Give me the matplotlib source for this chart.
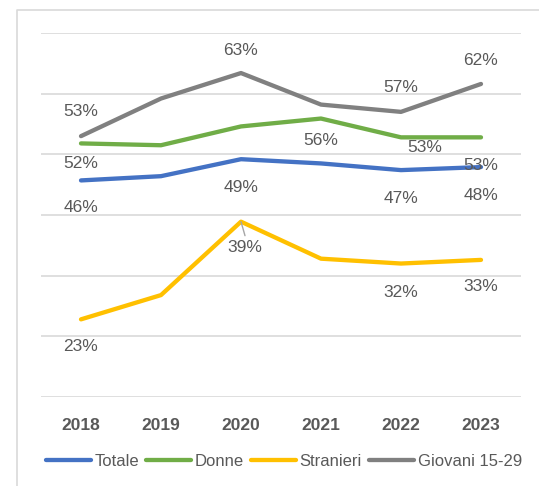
import matplotlib.pyplot as plt
from matplotlib.lines import Line2D

years = ['2018', '2019', '2020', '2021', '2022', '2023']

totale = [45.7, 46.4, 49.2, 48.5, 47.4, 47.9]
donne = [51.8, 51.5, 54.6, 55.9, 52.8, 52.8]
stranieri = [22.8, 26.8, 38.9, 32.8, 32.0, 32.6]
giovani = [53.0, 59.2, 63.4, 58.2, 57.0, 61.6]

totale_lab = ['46%', None, '49%', None, '47%', '48%']
donne_lab = ['52%', None, None, '56%', '53%', '53%']
stranieri_lab = ['23%', None, '39%', None, '32%', '33%']
giovani_lab = ['53%', None, '63%', None, '57%', '62%']

plt.rcParams['font.family'] = ['Liberation Sans', 'DejaVu Sans']

W, H = 539, 486
fig = plt.figure(figsize=(W / 100, H / 100), dpi=100)
ax = fig.add_axes([41 / W, 89 / H, 480 / W, 364 / H])

x = list(range(len(years)))
series = [
	('Totale', totale, totale_lab, '#4472C4', [(0, -27), None, (0, -28), None, (0, -28), (0, -28)]),
	('Donne', donne, donne_lab, '#70AD47', [(0, -20), None, None, (0, -22), (24, -10), (0, -28)]),
	('Stranieri', stranieri, stranieri_lab, '#FFC000', [(0, -27), None, (4, -26), None, (0, -29), (0, -27)]),
	('Giovani 15-29', giovani, giovani_lab, '#808080', [(0, 25), None, (0, 23), None, (0, 24), (0, 23)]),
]

handles = []
for name, vals, labs, col, offs in series:
	h, = ax.plot(x, vals, color=col, lw=3.1, solid_capstyle='round', label=name, zorder=3)
	handles.append(h)
	for i, (v, t) in enumerate(zip(vals, labs)):
		if t is None:
			continue
		ax.annotate(t, (i, v), xytext=offs[i], textcoords='offset pixels',
			ha='center', va='center', fontsize=12.5, color='#595959', zorder=4)

# little leader line of the 39% label
ax.annotate('', xy=(2, stranieri[2]), xytext=(4, -14), textcoords='offset pixels',
	arrowprops=dict(arrowstyle='-', color='#A6A6A6', lw=1, shrinkA=0, shrinkB=0), zorder=4)

ax.set_xlim(-0.5, 5.5)
ax.set_ylim(10, 70)
ax.set_yticks(range(10, 71, 10))
ax.set_yticklabels([])
ax.grid(axis='y', color='#D9D9D9', lw=1.2)
ax.set_axisbelow(True)
ax.tick_params(length=0)
ax.set_xticks(x)
ax.set_xticklabels(years, fontsize=12.5, fontweight='bold', color='#595959')
ax.tick_params(axis='x', pad=15)
for s in ax.spines.values():
	s.set_visible(False)

fig.legend(handles=handles, loc='center', bbox_to_anchor=(284 / W, 1 - 461 / H), ncol=4,
	frameon=False, fontsize=12, labelcolor='#595959', handlelength=2.7,
	handletextpad=0.2, columnspacing=0.45, borderaxespad=0)

# light frame around the chart
fig.add_artist(Line2D([17 / W, 17 / W, 1], [0, 1 - 10 / H, 1 - 10 / H], color='#D9D9D9', lw=1.2,
	transform=fig.transFigure))

fig.savefig('out.png', dpi=100)
